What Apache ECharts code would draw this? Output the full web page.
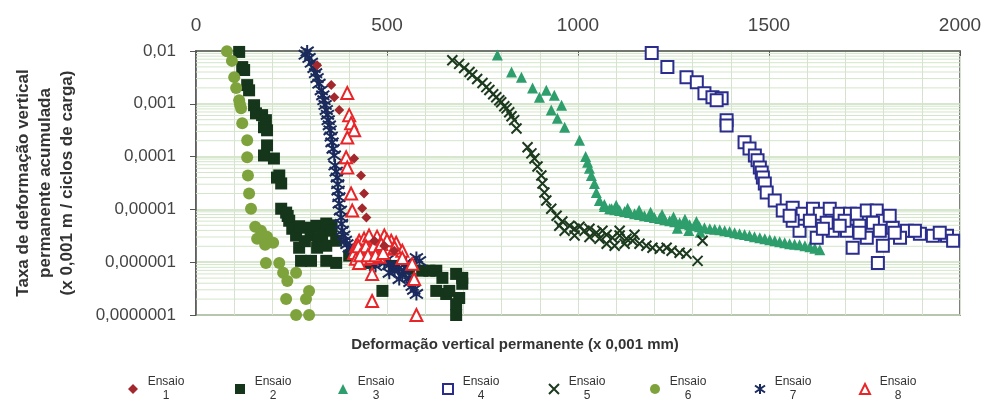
<!DOCTYPE html>
<html>
<head>
<meta charset="utf-8">
<script src="https://cdn.jsdelivr.net/npm/echarts@6/dist/echarts.min.js"></script>
<style>html,body{margin:0;padding:0;background:#fff}#c{width:989px;height:403px}</style>
</head>
<body>
<div id="c"></div>
<script>
// ---- data (x: deformação vertical permanente x0,001 mm ; y: taxa) ----
var xTicks = [0, 500, 1000, 1500, 2000];
var yTicks = [0.01, 0.001, 0.0001, 0.00001, 0.000001, 0.0000001];
var seriesNames = ['Ensaio 1','Ensaio 2','Ensaio 3','Ensaio 4','Ensaio 5','Ensaio 6','Ensaio 7','Ensaio 8'];

var ensaio1 = [[317,5.4e-3],[354,2.26e-3],[362,1.33e-3],[375,7.6e-4],[414,9.2e-5],[432,4.4e-5],[440,2.0e-5],[435,1.05e-5],[446,7.0e-6],[467,2.55e-6],[493,2.05e-6],[519,1.65e-6]];

var ensaio2 = [[113,9.6e-3],[121,4.96e-3],[126,4.36e-3],[134,2.26e-3],[139,1.8e-3],[152,9.4e-4],[157,6.6e-4],[173,6.1e-4],[183,4.9e-4],[178,3.6e-4],[186,3.15e-4],[186,1.63e-4],[178,1.05e-4],[204,9.2e-5],[212,4.0e-5],[218,4.4e-5],[223,3.1e-5],[223,1.03e-5],[236,8.7e-6],[240,7.5e-6],[244,6.1e-6],[252,4.3e-6],[262,3.2e-6],[270,1.88e-6],[270,4.8e-6],[288,4.5e-6],[300,3.2e-6],[315,4.9e-6],[330,3.4e-6],[341,5.4e-6],[355,5.0e-6],[354,3.95e-6],[367,2.55e-6],[285,2.5e-6],[320,2.7e-6],[341,2.05e-6],[317,1.88e-6],[275,1.06e-6],[301,1.06e-6],[341,1.06e-6],[367,9.7e-7],[401,1.33e-6],[453,9.7e-7],[519,8.5e-7],[558,7.5e-7],[592,6.9e-7],[611,6.9e-7],[629,6.9e-7],[645,5.05e-7],[681,6.0e-7],[697,5.05e-7],[697,3.9e-7],[629,2.86e-7],[655,2.5e-7],[663,2.86e-7],[689,2.1e-7],[681,1.6e-7],[681,1.0e-7],[488,2.86e-7]];

var ensaio3 = [[789,8.4e-3],[826,4.0e-3],[852,3.2e-3],[881,2.0e-3],[899,1.33e-3],[917,1.8e-3],[938,1.45e-3],[957,9.4e-4],[930,7.6e-4],[946,5.3e-4],[965,3.6e-4],[1004,2.04e-4],[1020,1.0e-4],[1025,7.8e-5],[1030,6.0e-5],[1035,4.4e-5],[1043,3.1e-5],[1048,2.1e-5],[1056,1.47e-5],[1069,1.24e-5],[1088,1.03e-5],
 [1069,1.13e-5],[1083,1.03e-5],[1096,9.9e-6],[1109,9.5e-6],[1122,9.1e-6],[1135,8.7e-6],[1148,8.3e-6],[1161,8.0e-6],[1174,7.6e-6],[1187,7.3e-6],[1200,7.0e-6],[1214,6.7e-6],[1227,6.4e-6],[1240,6.1e-6],[1253,5.86e-6],[1266,5.6e-6],[1279,5.37e-6],[1292,5.1e-6],[1305,4.9e-6],[1318,4.7e-6],[1331,4.5e-6],[1345,4.3e-6],[1358,4.2e-6],[1371,4.13e-6],[1384,3.95e-6],[1397,3.8e-6],[1410,3.6e-6],[1423,3.47e-6],[1436,3.33e-6],[1449,3.2e-6],[1462,3.05e-6],[1476,2.91e-6],[1489,2.79e-6],[1502,2.67e-6],[1515,2.55e-6],[1528,2.44e-6],[1541,2.33e-6],[1554,2.24e-6],[1567,2.19e-6],[1580,2.14e-6],[1594,2.05e-6],[1607,1.96e-6],[1620,1.84e-6],[1633,1.72e-6],
 [1100,1.2e-5],[1130,1.05e-5],[1160,9.6e-6],[1190,8.8e-6],[1220,8.0e-6],[1250,7.2e-6],[1280,6.5e-6],[1310,5.9e-6],[1260,4.4e-6],[1290,4.0e-6],[1320,3.7e-6]];

var ensaio4 = [[1193,9.2e-3],[1234,4.96e-3],[1284,3.2e-3],[1311,2.57e-3],[1331,1.59e-3],[1352,1.33e-3],[1376,1.28e-3],[1363,1.17e-3],[1389,4.9e-4],[1389,3.9e-4],[1436,1.86e-4],[1449,1.43e-4],[1463,1.05e-4],[1470,8.5e-5],[1476,6.2e-5],[1481,5.0e-5],[1484,4.0e-5],[1489,3.1e-5],[1494,2.09e-5],[1515,1.47e-5],[1536,9.5e-6],[1562,1.08e-5],[1588,8.3e-6],[1615,1.03e-5],[1633,8.3e-6],[1659,1.03e-5],[1685,8.3e-6],[1712,8.3e-6],[1730,8.3e-6],[1756,9.5e-6],[1782,9.5e-6],[1798,6.1e-6],[1824,4.5e-6],[1861,3.95e-6],[1895,3.47e-6],[1929,3.18e-6],[1966,3.18e-6],[1982,2.55e-6],[1580,3.95e-6],[1625,2.91e-6],[1667,3.95e-6],[1719,1.88e-6],[1798,2.05e-6],[1785,9.7e-7],[1756,2.91e-6],[1704,3.95e-6],[1772,5.6e-6],[1651,5.6e-6],[1562,6.1e-6],[1843,2.91e-6],[1607,6.1e-6],[1698,6.1e-6],[1737,4.9e-6],[1816,7.6e-6],[1790,3.95e-6],[1641,4.3e-6],[1737,3.6e-6],[1882,3.95e-6],[1947,3.6e-6],[1829,3.6e-6],[1554,7.6e-6],[1685,4.9e-6]];

var ensaio5 = [[671,6.7e-3],[689,5.7e-3],[702,4.75e-3],[716,3.99e-3],[723,3.5e-3],[736,2.94e-3],[750,2.47e-3],[760,2.07e-3],[768,1.82e-3],[778,1.52e-3],[786,1.33e-3],[794,1.17e-3],[799,1.07e-3],[807,9.0e-4],[813,8.2e-4],[820,6.9e-4],[826,5.8e-4],[833,4.9e-4],[839,3.4e-4],[868,1.5e-4],[878,1.15e-4],[886,9.2e-5],[894,6.5e-5],[904,4.4e-5],[907,3.1e-5],[912,2.09e-5],[917,1.47e-5],[930,1.03e-5],[944,7.6e-6],[959,5.9e-6],[978,4.9e-6],[991,4.3e-6],[1004,4.7e-6],[1017,3.95e-6],[1030,4.3e-6],[1048,3.6e-6],[1064,3.95e-6],[1075,3.3e-6],[1090,2.9e-6],[1109,3.2e-6],[1127,2.79e-6],[1143,2.55e-6],[1161,2.24e-6],[1179,2.05e-6],[1195,1.88e-6],[1214,1.8e-6],[1232,1.88e-6],[1245,1.65e-6],[1266,1.51e-6],[1284,1.45e-6],[1313,1.06e-6],[1326,2.55e-6],[965,3.95e-6],[991,3.2e-6],[1030,3.0e-6],[1056,2.79e-6],[1075,2.24e-6],[1096,2.05e-6],[1122,2.24e-6],[951,4.9e-6],[1109,3.95e-6],[1148,3.3e-6]];

var ensaio6 = [[81,9.9e-3],[94,6.5e-3],[100,3.2e-3],[105,2.0e-3],[113,1.17e-3],[115,9.8e-4],[118,8.2e-4],[121,4.3e-4],[134,2.04e-4],[134,9.7e-5],[136,4.4e-5],[139,2.0e-5],[144,1.03e-5],[155,4.7e-6],[170,3.95e-6],[186,3.05e-6],[202,2.33e-6],[160,2.79e-6],[181,2.14e-6],[183,9.7e-7],[218,9.7e-7],[228,6.3e-7],[262,6.3e-7],[239,4.4e-7],[296,2.86e-7],[236,2.0e-7],[288,2.0e-7],[262,1.0e-7],[296,1.0e-7]];

var ensaio7 = [[291,9.8e-3],[286,8.5e-3],[296,7.4e-3],[302,6.0e-3],[309,4.75e-3],[313,3.8e-3],[317,3.07e-3],[322,2.4e-3],[328,1.8e-3],[332,1.45e-3],[335,1.17e-3],[338,9.5e-4],[341,7.6e-4],[344,6.2e-4],[346,4.9e-4],[349,3.9e-4],[351,3.15e-4],[354,2.4e-4],[356,1.86e-4],[359,1.4e-4],[362,1.05e-4],[364,6.8e-5],[367,5.2e-5],[370,4.0e-5],[371,3.0e-5],[372,2.27e-5],[374,1.7e-5],[375,1.29e-5],[378,9.5e-6],[380,7.0e-6],[381,5.3e-6],[383,3.95e-6],[387,3.2e-6],[391,2.55e-6],[395,2.2e-6],[401,1.88e-6],[410,1.7e-6],[422,1.5e-6],[432,1.4e-6],[443,1.32e-6],[455,1.25e-6],[467,1.16e-6],[480,1.05e-6],[493,9.7e-7],[505,8.8e-7],[519,8.2e-7],[530,7.5e-7],[545,6.9e-7],[540,5.8e-7],[558,5.05e-7],[560,4.2e-7],[566,3.55e-7],[570,3.0e-7],[577,2.5e-7],[577,1.2e-6],[550,9.7e-7],[506,6.3e-7],[532,4.8e-7],[520,6.8e-7],[500,1.1e-6],[470,8.5e-7],[450,1.0e-6],[430,1.05e-6],[560,8.8e-7],[585,1.05e-6]];

var ensaio8 = [[396,1.6e-3],[401,6.1e-4],[406,4.3e-4],[414,3.15e-4],[396,2.3e-4],[393,9.7e-5],[396,6.2e-5],[406,2.0e-5],[409,9.5e-6],[419,2.05e-6],[427,2.55e-6],[440,2.8e-6],[453,3.2e-6],[474,3.05e-6],[493,3.2e-6],[511,2.55e-6],[524,2.33e-6],[414,1.5e-6],[432,1.65e-6],[453,1.5e-6],[474,1.65e-6],[419,1.16e-6],[440,1.16e-6],[459,1.2e-6],[480,1.27e-6],[506,1.8e-6],[540,1.65e-6],[540,1.2e-6],[566,9.3e-7],[571,4.8e-7],[461,6.0e-7],[461,1.84e-7],[577,1.0e-7],[427,9.7e-7],[425,2.0e-6],[445,2.0e-6],[465,2.0e-6],[485,2.2e-6],[430,1.35e-6],[450,1.35e-6],[470,1.35e-6],[490,1.5e-6],[500,2.6e-6],[520,1.9e-6]];

// log minor grid mantissas
var minorMantissas = [2,3,4,5,6,7,8,9];

var FONT = 'Liberation Sans, Arial, sans-serif';
var minorValues = [];
for (var i = 1; i < yTicks.length; i++) {
  for (var j = 0; j < minorMantissas.length; j++) {
    minorValues.push([xTicks[0], yTicks[i] * minorMantissas[j]]);
  }
}

var xPath = 'path://M0,0L10,10M10,0L0,10';
var astPath = 'path://M5,0L5,10M0,1.5L10,8.5M10,1.5L0,8.5';

var styles = [
  {data: ensaio1, symbol: 'diamond', size: 10, z: 6, item: {color: '#a3282e'}},
  {data: ensaio2, symbol: 'rect', size: 12, z: 2, item: {color: '#15361a'}},
  {data: ensaio3, symbol: 'triangle', size: 11, z: 3, item: {color: '#2e9e6c'}},
  {data: ensaio4, symbol: 'emptyRect', size: 12, z: 3, item: {color: '#2a2d8c', borderColor: '#2a2d8c', borderWidth: 2}},
  {data: ensaio5, symbol: xPath, size: 10, z: 4, item: {color: 'rgba(0,0,0,0)', borderColor: '#1d3a1f', borderWidth: 2}},
  {data: ensaio6, symbol: 'circle', size: 12, z: 2, item: {color: '#7ea33c'}},
  {data: ensaio7, symbol: astPath, size: 13, z: 4, item: {color: 'rgba(0,0,0,0)', borderColor: '#1b2a5c', borderWidth: 2}},
  {data: ensaio8, symbol: 'emptyTriangle', size: 12, z: 5, item: {color: '#e8262a', borderColor: '#e8262a', borderWidth: 2}}
];

var series = styles.map(function (s, idx) {
  return {
    name: seriesNames[idx], type: 'scatter', data: s.data, symbol: s.symbol,
    symbolSize: s.size, z: s.z, itemStyle: Object.assign({opacity: 1}, s.item), silent: true, animation: false
  };
});
// log-scale minor horizontal grid lines
series.push({
  name: 'minorGrid', type: 'custom', z: 1, silent: true, animation: false,
  data: minorValues, encode: {x: 0, y: 1}, clip: true,
  renderItem: function (params, api) {
    var v = api.value(1);
    var p0 = api.coord([xTicks[0], v]);
    var p1 = api.coord([xTicks[xTicks.length - 1], v]);
    return {type: 'line', shape: {x1: p0[0], y1: p0[1], x2: p1[0], y2: p1[1]},
            style: {stroke: '#d3e6c9', lineWidth: 1}};
  }
});

var legendLefts = [123, 230, 333, 437, 543, 645, 749, 854];
var legends = seriesNames.map(function (n, i) {
  return {
    data: [n], left: legendLefts[i], top: 371, itemWidth: 10, itemHeight: 10, itemGap: 0,
    selectedMode: false,
    formatter: function (name) { return '{a|Ensaio}\n{a|' + name.split(' ')[1] + '}'; },
    textStyle: {rich: {a: {width: 46, align: 'center', fontSize: 12, lineHeight: 14, color: '#333', fontFamily: FONT}}}
  };
});

var chart = echarts.init(document.getElementById('c'), null, {renderer: 'canvas'});
chart.setOption({
  backgroundColor: '#fff',
  animation: false,
  title: {
    text: 'Deformação vertical permanente (x 0,001 mm)', left: 510, top: 332, textAlign: 'center',
    textStyle: {fontSize: 15, fontWeight: 'bold', color: '#333', fontFamily: FONT}
  },
  legend: legends,
  grid: {left: 196, right: 29, top: 51, bottom: 88, show: true, borderColor: '#555', borderWidth: 1.5, backgroundColor: 'transparent'},
  xAxis: {
    type: 'value', position: 'top', min: xTicks[0], max: xTicks[xTicks.length - 1], interval: 500,
    axisLine: {show: true, lineStyle: {color: '#555', width: 1.5}},
    axisTick: {show: true, inside: true, length: 5, lineStyle: {color: '#555'}},
    axisLabel: {fontSize: 19, color: '#444', margin: 16, fontFamily: FONT, formatter: function (v) { return String(v); }},
    splitLine: {show: true, lineStyle: {color: '#d6e2cf', width: 1}},
    minorTick: {show: false, splitNumber: 5},
    minorSplitLine: {show: true, lineStyle: {color: '#d6e2cf', width: 1}}
  },
  yAxis: {
    type: 'log', logBase: 10, min: yTicks[yTicks.length - 1], max: yTicks[0],
    name: 'Taxa de deformação vertical\npermanente acumulada\n(x 0,001 m / ciclos de carga)',
    nameLocation: 'middle', nameRotate: 90, nameGap: 118,
    nameTextStyle: {fontSize: 17, fontWeight: 'bold', color: '#333', lineHeight: 22, fontFamily: FONT, align: 'center'},
    axisLine: {show: true, lineStyle: {color: '#555', width: 1.5}},
    axisTick: {show: true, inside: false, length: 6, lineStyle: {color: '#555'}},
    axisLabel: {
      fontSize: 17, color: '#444', margin: 20, fontFamily: FONT,
      formatter: function (v) {
        var d = Math.round(-Math.log10(v));
        return v.toFixed(d).replace('.', ',');
      }
    },
    splitLine: {show: true, lineStyle: {color: '#c9dfbd', width: 1.5}}
  },
  series: series
});
</script>
</body>
</html>
